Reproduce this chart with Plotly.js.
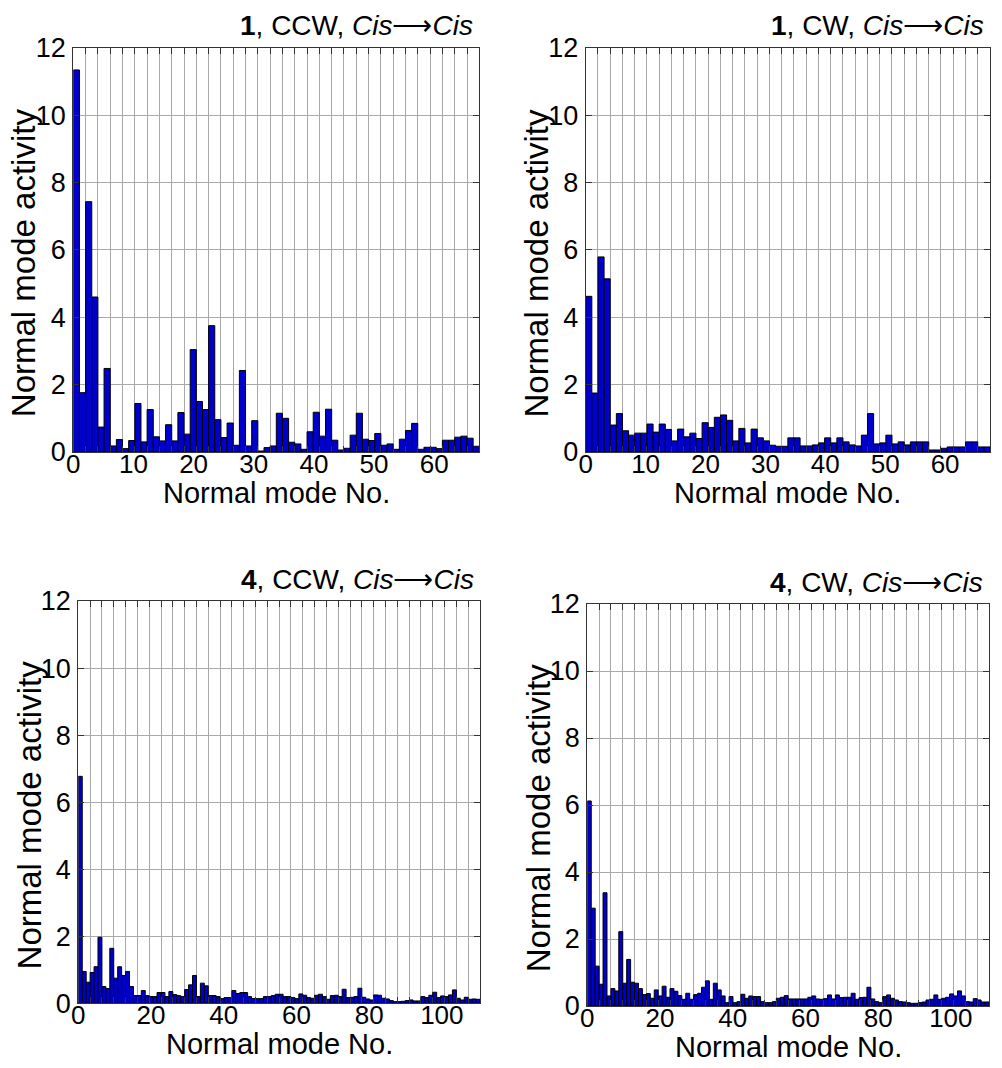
<!DOCTYPE html>
<html>
<head>
<meta charset="utf-8">
<script src="https://cdn.plot.ly/plotly-3.0.1.min.js"></script>
<style>
  html, body { margin: 0; padding: 0; background: #ffffff; }
  #chart { width: 1002px; height: 1068px; }
</style>
</head>
<body>
<div id="chart"></div>
<script>
// ---- Data (normal mode activity per mode) ----
const activity1CCW = [11.34,1.76,7.43,4.6,0.74,2.48,0.18,0.37,0.1,0.34,
  1.44,0.3,1.26,0.45,0.33,0.81,0.33,1.17,0.53,3.04,
  1.5,1.26,3.75,0.96,0.43,0.86,0.2,2.42,0.18,0.93,
  0.03,0.13,0.18,1.15,1.0,0.29,0.24,0.08,0.6,1.18,
  0.47,1.27,0.35,0.06,0.11,0.5,1.15,0.38,0.34,0.55,
  0.2,0.24,0.08,0.38,0.64,0.85,0.08,0.14,0.14,0.1,
  0.35,0.35,0.44,0.47,0.41,0.17];

const activity1CW = [4.62,1.75,5.79,5.14,0.8,1.14,0.63,0.5,0.56,0.56,
  0.83,0.59,0.83,0.67,0.33,0.68,0.45,0.56,0.4,0.87,
  0.73,1.03,1.1,0.94,0.33,0.7,0.27,0.68,0.42,0.33,
  0.2,0.17,0.17,0.42,0.42,0.18,0.18,0.21,0.27,0.42,
  0.27,0.42,0.3,0.21,0.18,0.5,1.14,0.24,0.27,0.5,
  0.24,0.3,0.21,0.3,0.3,0.3,0.06,0.06,0.11,0.15,
  0.15,0.15,0.3,0.3,0.15,0.15];

const activity4CCW = [6.77,0.95,0.63,0.92,1.09,1.97,0.5,0.44,1.64,0.75,
  1.09,0.83,0.95,0.5,0.23,0.23,0.38,0.23,0.2,0.2,
  0.32,0.32,0.2,0.35,0.26,0.23,0.2,0.41,0.55,0.83,
  0.2,0.6,0.52,0.23,0.23,0.2,0.14,0.17,0.17,0.38,
  0.29,0.32,0.32,0.2,0.14,0.14,0.14,0.2,0.2,0.23,
  0.27,0.27,0.2,0.2,0.17,0.14,0.28,0.24,0.17,0.15,
  0.24,0.27,0.2,0.12,0.23,0.24,0.2,0.42,0.17,0.18,
  0.2,0.45,0.18,0.13,0.1,0.25,0.24,0.15,0.13,0.08,
  0.05,0.05,0.06,0.08,0.1,0.07,0.07,0.2,0.17,0.24,
  0.33,0.17,0.22,0.2,0.25,0.4,0.15,0.1,0.18,0.12,
  0.13,0.12];

const activity4CW = [6.12,2.92,1.19,0.65,3.38,0.3,0.52,0.45,2.22,0.68,
  1.39,0.71,0.68,0.52,0.34,0.37,0.23,0.48,0.3,0.59,
  0.26,0.52,0.44,0.31,0.2,0.38,0.2,0.34,0.38,0.56,
  0.75,0.2,0.68,0.48,0.3,0.1,0.28,0.1,0.13,0.35,
  0.23,0.3,0.28,0.28,0.13,0.1,0.1,0.13,0.23,0.26,
  0.31,0.21,0.21,0.21,0.21,0.21,0.26,0.3,0.21,0.2,
  0.22,0.33,0.21,0.33,0.25,0.26,0.26,0.38,0.2,0.25,
  0.26,0.56,0.21,0.13,0.1,0.28,0.33,0.23,0.18,0.13,
  0.12,0.1,0.08,0.08,0.1,0.12,0.18,0.2,0.33,0.2,
  0.23,0.26,0.36,0.3,0.45,0.3,0.13,0.12,0.22,0.18,
  0.12,0.12];

const panelTitles = [
  '<b>1</b>, CCW, <i>Cis</i>\u27F6<i>Cis</i>',
  '<b>1</b>, CW, <i>Cis</i>\u27F6<i>Cis</i>',
  '<b>4</b>, CCW, <i>Cis</i>\u27F6<i>Cis</i>',
  '<b>4</b>, CW, <i>Cis</i>\u27F6<i>Cis</i>'
];
const xTitle = 'Normal mode No.';
const yTitle = 'Normal mode activity';
const xLabels66 = [0, 10, 20, 30, 40, 50, 60];
const xLabels102 = [0, 20, 40, 60, 80, 100];
const yLabels = [0, 2, 4, 6, 8, 10, 12];

// ---- Layout helpers ----
const W = 1002, H = 1068;
const FONT = 'Liberation Sans, Arial, Helvetica, sans-serif';
const px = v => v / W;
const py = v => 1 - v / H;

const panels = [
  {data: activity1CCW, box: [73.3, 479.3, 47.7, 452], labels: xLabels66, labelRange: [0, 67.5], grid: 2, titleGap: 41},
  {data: activity1CW,  box: [585.7, 990, 47.7, 452], labels: xLabels66, labelRange: [0, 67.5], grid: 2, titleGap: 41},
  {data: activity4CCW, box: [78.3, 480, 601, 1003.3], labels: xLabels102, labelRange: [0, 110.5], grid: 3, titleGap: 41},
  {data: activity4CW,  box: [587.3, 989, 604, 1006], labels: xLabels102, labelRange: [0, 110.5], grid: 3, titleGap: 41}
];

const traces = [];
const layout = {
  width: W, height: H,
  margin: {l: 0, r: 0, t: 0, b: 0},
  paper_bgcolor: '#ffffff',
  plot_bgcolor: '#ffffff',
  showlegend: false,
  bargap: 0,
  font: {family: FONT, color: '#000000', size: 26},
  annotations: []
};

panels.forEach((p, k) => {
  const n = k + 1;
  const xa = 'xaxis' + (n === 1 ? '' : n);
  const ya = 'yaxis' + (n === 1 ? '' : n);
  const xr = 'x' + (n === 1 ? '' : n);
  const yr = 'y' + (n === 1 ? '' : n);
  const la = 'xaxis' + (n + 4);
  const lr = 'x' + (n + 4);
  const modes = p.data.map((_, i) => i + 1);
  const [x0, x1, y0, y1] = p.box;

  traces.push({
    type: 'bar',
    x: modes, y: p.data,
    width: 1, offset: -1,
    xaxis: xr, yaxis: yr,
    marker: {color: 'rgb(0,0,205)', line: {color: '#000000', width: 1}},
    hoverinfo: 'x+y'
  });
  // invisible trace on the label axis so it is drawn
  traces.push({
    type: 'scatter', mode: 'markers',
    x: [p.labelRange[0]], y: [0],
    xaxis: lr, yaxis: yr,
    marker: {opacity: 0}, hoverinfo: 'skip'
  });

  layout[xa] = {
    domain: [px(x0), px(x1)],
    anchor: yr,
    range: [0, p.data.length],
    tick0: 0, dtick: p.grid,
    showticklabels: false,
    ticks: 'inside', ticklen: 6, tickcolor: '#333333',
    showgrid: true, gridcolor: '#a9a9a9', gridwidth: 1,
    showline: true, linecolor: '#333333', linewidth: 1, mirror: 'ticks',
    zeroline: false, fixedrange: true
  };
  layout[la] = {
    domain: [px(x0), px(x1)],
    anchor: yr,
    overlaying: xr,
    range: p.labelRange,
    tickmode: 'array', tickvals: p.labels, ticktext: p.labels.map(String),
    ticks: '', showgrid: false, showline: false, zeroline: false,
    tickfont: {family: FONT, size: 26, color: '#000000'},
    ticklabelstandoff: -6,
    fixedrange: true
  };
  layout[ya] = {
    domain: [py(y1), py(y0)],
    anchor: xr,
    range: [0, 12],
    tickmode: 'array', tickvals: yLabels, ticktext: yLabels.map(String),
    ticks: 'inside', ticklen: 6, tickcolor: '#333333',
    showgrid: true, gridcolor: '#a9a9a9', gridwidth: 1,
    showline: true, linecolor: '#333333', linewidth: 1, mirror: 'ticks',
    zeroline: false, fixedrange: true,
    tickfont: {family: FONT, size: 27, color: '#000000'},
    ticklabelstandoff: 1
  };

  // panel title (top right)
  layout.annotations.push({
    text: panelTitles[k], xref: 'paper', yref: 'paper',
    x: px(x1 - 4), y: py(y0 - 22), xanchor: 'right', yanchor: 'middle',
    showarrow: false, font: {family: FONT, size: 28, color: '#000000'}
  });
  // x axis title
  layout.annotations.push({
    text: xTitle, xref: 'paper', yref: 'paper',
    x: px((x0 + x1) / 2), y: py(y1 + p.titleGap), xanchor: 'center', yanchor: 'middle',
    showarrow: false, font: {family: FONT, size: 29, color: '#000000'}
  });
  // y axis title
  layout.annotations.push({
    text: yTitle, xref: 'paper', yref: 'paper',
    x: px(x0 - 49), y: py((y0 + y1) / 2 + 13), xanchor: 'center', yanchor: 'middle',
    textangle: -90,
    showarrow: false, font: {family: FONT, size: 33, color: '#000000'}
  });
});

Plotly.newPlot('chart', traces, layout, {staticPlot: true, displayModeBar: false});
</script>
</body>
</html>
